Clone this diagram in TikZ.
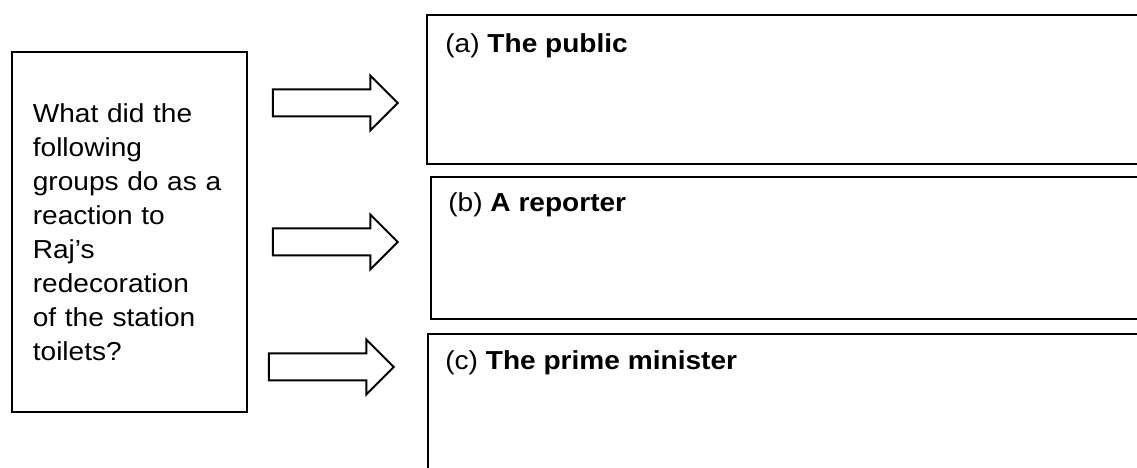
\documentclass[tikz,border=0pt]{standalone}
\usepackage{fontspec}
\setmainfont{Liberation Sans}[FakeStretch=1.08]
\usetikzlibrary{shapes.arrows,positioning}
\newcommand{\pxunit}{0.6pt}
\newcommand{\sheetfont}{\fontsize{15.6}{20.4}\selectfont}
\tikzstyle{question}=[draw, rectangle, line width=1.2pt, text width=116pt, align=left, inner sep=0, minimum width=235*\pxunit, minimum height=360*\pxunit, font=\sheetfont]
\tikzstyle{answer}=[draw, rectangle, line width=1.2pt, anchor=north west, inner sep=0, minimum width=724*\pxunit]
\tikzstyle{tag}=[anchor=base west, inner sep=0, font=\sheetfont]
\tikzstyle{bigarrow}=[draw, single arrow, line width=1.2pt, inner xsep=0, inner ysep=12.5*\pxunit, minimum height=125*\pxunit, single arrow head extend=14*\pxunit]

\begin{document}
\begin{tikzpicture}[x=0.6pt, y=-0.6pt]
  \useasboundingbox (0,0) rectangle (1137,468);
  \clip (0,0) rectangle (1137,468);

  \node[question] (Q) at (129.5, 232) {What did the\\ following\\ groups do as a\\ reaction to\\ Raj’s\\ redecoration\\ of the station\\ toilets?};

  \node[answer, minimum height=149*\pxunit] (A) at (426, 14) {};
  \node[answer, minimum height=142*\pxunit] (B) at (430, 176) {};
  \node[answer, minimum height=150*\pxunit] (C) at (427, 333) {};

  \node[tag] (Atag) at ([shift={(19,39)}]A.north west) {(a) \textbf{The public}};
  \node[tag] (Btag) at ([shift={(18,36)}]B.north west) {(b) \textbf{A reporter}};
  \node[tag] (Ctag) at ([shift={(18,37)}]C.north west) {(c) \textbf{The prime minister}};

  \node[bigarrow] (QA) at (328.5, 103) {};
  \node[bigarrow] (QB) at (328.5, 242) {};
  \node[bigarrow] (QC) at (324.5, 367) {};

\end{tikzpicture}
\end{document}
